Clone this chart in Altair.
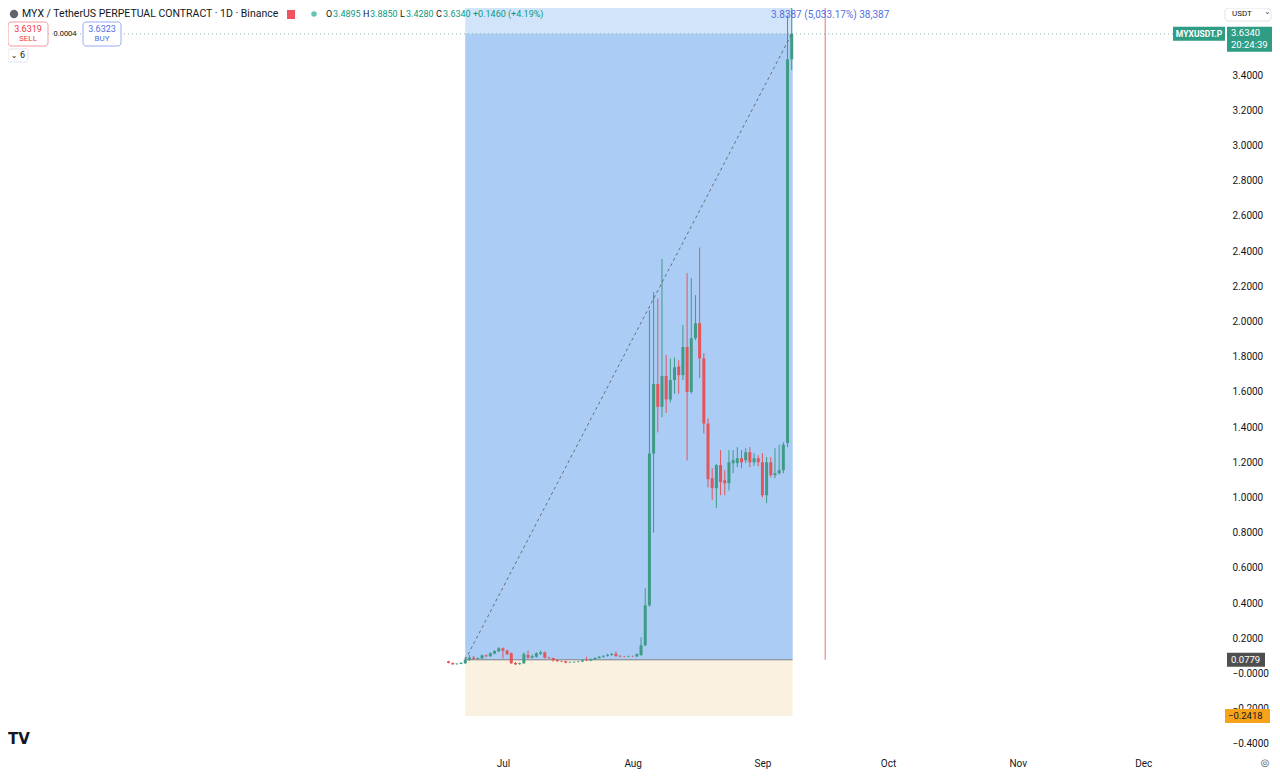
import altair as alt
import pandas as pd

# ---------------- data ----------------
dates = pd.date_range("2025-06-18", "2025-09-08", freq="D").strftime("%Y-%m-%d").tolist()

opens = [0.069, 0.060, 0.053, 0.055, 0.058, 0.078, 0.090, 0.083, 0.086, 0.103, 0.098, 0.113, 0.126,
         0.143, 0.130, 0.115, 0.060, 0.053, 0.058, 0.105, 0.090, 0.095, 0.112, 0.120, 0.090, 0.088,
         0.076, 0.070, 0.070, 0.062, 0.064, 0.066, 0.068, 0.078, 0.074, 0.080, 0.088, 0.095, 0.100,
         0.105, 0.112, 0.100, 0.097, 0.096, 0.098, 0.097, 0.105, 0.160, 0.387, 1.250, 1.645, 1.515,
         1.690, 1.557, 1.667, 1.745, 1.695, 1.855, 1.600, 1.905, 1.990, 1.790, 1.420, 1.110, 1.053,
         1.184, 1.098, 1.081, 1.195, 1.195, 1.223, 1.212, 1.257, 1.200, 1.223, 1.200, 1.013, 1.200,
         1.127, 1.138, 1.155, 1.310, 3.4895]
highs = [0.072, 0.062, 0.058, 0.066, 0.095, 0.105, 0.100, 0.092, 0.108, 0.108, 0.120, 0.132, 0.150,
         0.148, 0.135, 0.120, 0.065, 0.062, 0.120, 0.130, 0.108, 0.120, 0.130, 0.125, 0.095, 0.090,
         0.080, 0.074, 0.072, 0.068, 0.070, 0.072, 0.080, 0.095, 0.085, 0.092, 0.100, 0.105, 0.112,
         0.118, 0.125, 0.105, 0.100, 0.102, 0.102, 0.115, 0.205, 0.485, 2.065, 2.167, 2.130, 2.355,
         1.810, 1.790, 1.795, 1.780, 1.980, 2.275, 2.247, 2.150, 2.420, 1.820, 1.450, 1.167, 1.190,
         1.269, 1.155, 1.269, 1.269, 1.286, 1.269, 1.280, 1.286, 1.252, 1.240, 1.252, 1.229, 1.229,
         1.280, 1.300, 1.314, 3.740, 3.885]
lows = [0.058, 0.050, 0.050, 0.053, 0.055, 0.072, 0.078, 0.080, 0.083, 0.093, 0.095, 0.110, 0.122,
        0.085, 0.105, 0.055, 0.048, 0.050, 0.055, 0.085, 0.085, 0.090, 0.105, 0.085, 0.082, 0.068,
        0.066, 0.064, 0.058, 0.060, 0.061, 0.063, 0.065, 0.070, 0.070, 0.076, 0.085, 0.090, 0.096,
        0.100, 0.094, 0.092, 0.092, 0.093, 0.093, 0.093, 0.100, 0.155, 0.380, 0.800, 1.370, 1.457,
        1.480, 1.540, 1.590, 1.590, 1.667, 1.210, 1.590, 1.894, 1.678, 1.365, 1.058, 0.985, 0.940,
        1.013, 1.013, 1.040, 1.138, 1.172, 1.167, 1.195, 1.172, 1.180, 1.178, 1.000, 0.968, 1.115,
        1.110, 1.130, 1.138, 1.286, 3.428]
closes = [0.060, 0.052, 0.056, 0.060, 0.078, 0.090, 0.083, 0.087, 0.103, 0.098, 0.115, 0.128, 0.143,
          0.130, 0.110, 0.058, 0.052, 0.058, 0.110, 0.090, 0.098, 0.115, 0.120, 0.090, 0.088, 0.075,
          0.070, 0.068, 0.062, 0.064, 0.066, 0.068, 0.075, 0.074, 0.080, 0.088, 0.095, 0.100, 0.106,
          0.110, 0.100, 0.097, 0.096, 0.098, 0.097, 0.110, 0.160, 0.387, 1.250, 1.645, 1.515, 1.690,
          1.557, 1.667, 1.740, 1.695, 1.855, 1.600, 1.905, 1.990, 1.790, 1.420, 1.104, 1.053, 1.184,
          1.087, 1.081, 1.200, 1.212, 1.223, 1.200, 1.257, 1.200, 1.223, 1.200, 1.013, 1.200, 1.127,
          1.138, 1.155, 1.300, 3.4895, 3.634]

month_starts = ["2025-07-01", "2025-08-01", "2025-09-01", "2025-10-01", "2025-11-01", "2025-12-01"]
month_labels = ["Jul", "Aug", "Sep", "Oct", "Nov", "Dec"]
y_ticks = [-0.4, -0.2, 0.0, 0.2, 0.4, 0.6, 0.8, 1.0, 1.2, 1.4, 1.6, 1.8, 2.0, 2.2, 2.4,
           2.6, 2.8, 3.0, 3.2, 3.4]

# position tool
entry_price = 0.0779
stop_price = -0.2418
target_diff = 3.8387
last_price = 3.634
tool_start = "2025-06-22"
tool_end = "2025-09-08"
vline_date = "2025-09-16"

# ---------------- helpers ----------------
origin = pd.Timestamp("2025-07-01")
def day(s):
    return (pd.Timestamp(s) - origin).days

UP, DOWN = "#3f9b86", "#e4555a"
df = pd.DataFrame({"date": dates, "open": opens, "high": highs, "low": lows, "close": closes})
df["d"] = [day(s) for s in dates]
df["color"] = [UP if c >= o else DOWN for o, c in zip(opens, closes)]

month_days = [day(s) for s in month_starts]
FONT = "Roboto"
TXT = "#131722"

x_scale = alt.Scale(domain=[-117.06, 171.33], nice=False, zero=False)
y_scale = alt.Scale(domain=[-0.446, 3.781], nice=False, zero=False)

x_label_expr = "[" + ",".join(f"'{m}'" for m in month_labels) + "][indexof([" + \
    ",".join(str(v) for v in month_days) + "], datum.value)]"
x_axis = alt.Axis(values=month_days, labelExpr=x_label_expr, domain=False, ticks=False, grid=False,
                  labelFont=FONT, labelFontSize=10, labelColor=TXT, labelPadding=6,
                  labelOverlap=False, labelFlush=False)
y_axis = alt.Axis(orient="right", values=y_ticks,
                  labelExpr="datum.value <= 0.00001 ? '\u2212' + format(abs(datum.value), '.4f') : format(datum.value, '.4f')",
                  domain=False, ticks=False, grid=False, labelFont=FONT, labelFontSize=10,
                  labelColor=TXT, labelPadding=7, labelOverlap=False, labelFlush=False)

def X(f):
    return alt.X(f, scale=x_scale, axis=x_axis, title=None)

def Y(f):
    return alt.Y(f, scale=y_scale, axis=y_axis, title=None)

one = pd.DataFrame({"k": [0]})

def label(text, x, y, size=10, color=TXT, align="left", weight="normal", font=FONT):
    return alt.Chart(one).mark_text(text=text, align=align, baseline="middle", fontSize=size,
                                    color=color, fontWeight=weight, font=font).encode(
        x=alt.value(x), y=alt.value(y))

def box(x1, x2, y1, y2, fill, stroke=None, radius=0):
    kw = dict(fill=fill, cornerRadius=radius)
    if stroke:
        kw.update(stroke=stroke, strokeWidth=1)
    return alt.Chart(one).mark_rect(**kw).encode(
        x=alt.value(x1), x2=alt.value(x2), y=alt.value(y1), y2=alt.value(y2))

PX = 176.0  # pixels per price unit, only used to size tag boxes

def price_tag(price, x1, x2, up_px, down_px, fill):
    d = pd.DataFrame({"lo": [price - down_px / PX], "hi": [price + up_px / PX]})
    return alt.Chart(d).mark_rect(fill=fill).encode(
        x=alt.value(x1), x2=alt.value(x2), y=Y("lo:Q"), y2="hi:Q")

def price_text(price, text, x, size=9.5, color="white", align="left", weight="normal"):
    d = pd.DataFrame({"p": [price]})
    return alt.Chart(d).mark_text(text=text, align=align, baseline="middle", fontSize=size,
                                  color=color, font=FONT, fontWeight=weight).encode(
        x=alt.value(x), y=Y("p:Q"))

# ---------------- position tool ----------------
t0, t1 = day(tool_start), day(tool_end) + 0.2
tool = pd.DataFrame({"x1": [t0], "x2": [t1], "entry": [entry_price], "stop": [stop_price],
                     "target": [entry_price + target_diff], "last": [last_price]})
tb = alt.Chart(tool)
profit = tb.mark_rect(fill="#d2e4f9", clip=True).encode(x=X("x1:Q"), x2="x2:Q", y=Y("entry:Q"), y2="target:Q")
filled = tb.mark_rect(fill="#abcdf5", clip=True).encode(x=X("x1:Q"), x2="x2:Q", y=Y("entry:Q"), y2="last:Q")
stopz = tb.mark_rect(fill="#fbf1e0", clip=True).encode(x=X("x1:Q"), x2="x2:Q", y=Y("stop:Q"), y2="entry:Q")
entry_line = tb.mark_rule(color="#787b86", strokeWidth=1).encode(x=X("x1:Q"), x2="x2:Q", y=Y("entry:Q"))
diag = alt.Chart(pd.DataFrame({"xa": [t0], "xb": [day(tool_end)], "ya": [entry_price], "yb": [last_price]})
                 ).mark_rule(color="#6a6d78", strokeWidth=1, strokeDash=[3, 3]).encode(
    x=X("xa:Q"), x2="xb:Q", y=Y("ya:Q"), y2="yb:Q")
vline = alt.Chart(pd.DataFrame({"xv": [day(vline_date)], "y0": [entry_price], "y1": [4.0]})
                  ).mark_rule(color="#f26d76", strokeWidth=1, clip=True).encode(
    x=X("xv:Q"), y=Y("y0:Q"), y2="y1:Q")
last_line = alt.Chart(pd.DataFrame({"lp": [last_price]})).mark_rule(
    color="#8fb3ad", strokeWidth=1, strokeDash=[1, 3]).encode(y=Y("lp:Q"))

# ---------------- candles ----------------
base = alt.Chart(df)
wicks = base.mark_rule(strokeWidth=1, clip=True).encode(
    x=X("d:Q"), y=Y("low:Q"), y2="high:Q", color=alt.Color("color:N", scale=None))
bodies = base.mark_bar(size=3, clip=True).encode(
    x=X("d:Q"), y=Y("open:Q"), y2="close:Q", color=alt.Color("color:N", scale=None))

# ---------------- price tags on the right ----------------
TEAL = "#2f9c84"
tags = [
    price_tag(last_price, 1165, 1217, 7, 7, TEAL),
    price_text(last_price, "MYXUSDT.P", 1191, size=8.5, align="center", weight="bold"),
    price_tag(last_price, 1219, 1264, 7, 18, TEAL),
    price_text(last_price + 1 / PX, "3.6340", 1223),
    price_text(last_price - 11 / PX, "20:24:39", 1223),
    price_tag(entry_price, 1219, 1257, 7, 7, "#4f4f4f"),
    price_text(entry_price, "0.0779", 1223),
    price_tag(stop_price, 1217, 1262, 7, 7, "#f5a31a"),
    price_text(stop_price, "\u22120.2418", 1220, color=TXT),
]

# ---------------- header / chrome ----------------
BLUE = "#5470e0"
RED = "#f23645"
GREEN = "#089981"
chrome = [
    alt.Chart(one).mark_point(filled=True, size=70, color="#1e222d").encode(x=alt.value(6), y=alt.value(6)),
    label("MYX / TetherUS PERPETUAL CONTRACT \u00b7 1D \u00b7 Binance", 14, 6, size=10.5),
    box(279, 287, 2, 11, "#f0555f"),
    alt.Chart(one).mark_point(filled=True, size=30, color="#22ab94").encode(x=alt.value(306), y=alt.value(6)),
    label("O", 318, 6, size=9), label("3.4895", 325, 6, size=9, color=GREEN),
    label("H", 355, 6, size=9), label("3.8850", 362, 6, size=9, color=GREEN),
    label("L", 392, 6, size=9), label("3.4280", 398, 6, size=9, color=GREEN),
    label("C", 428, 6, size=9), label("3.6340", 435, 6, size=9, color=GREEN),
    label("+0.1460 (+4.19%)", 465, 6, size=9, color=GREEN),
    box(0, 40, 14, 38, "white", stroke="#f39aa1", radius=3),
    label("3.6319", 20, 21, size=9, color=RED, align="center"),
    label("SELL", 20, 31, size=8, color=RED, align="center"),
    label("0.0004", 57, 26, size=7.5, align="center"),
    box(75, 113, 14, 38, "white", stroke="#9aaaf2", radius=3),
    label("3.6323", 94, 21, size=9, color=BLUE, align="center"),
    label("BUY", 94, 31, size=8, color=BLUE, align="center"),
    box(0, 20, 41, 54, "white", stroke="#e0e3eb", radius=2),
    label("\u2304 6", 10, 48, size=8, align="center", font="DejaVu Sans"),
    box(1217, 1263, 0, 13, "white", stroke="#e0e3eb", radius=3),
    label("USDT", 1224, 6, size=8),
    label("\u2304", 1256, 4, size=8, font="DejaVu Sans", color="#555"),
    label("3.8387 (5,033.17%) 38,387", 763, 7, size=10, color=BLUE),
    label("TV", 0, 731, size=15, weight="bold", font="DejaVu Sans", color="#131722"),
    label("\u25ce", 1257, 755, size=10, align="center", color="#555", font="DejaVu Sans"),
]

chart = alt.layer(
    profit, filled, stopz, entry_line, last_line, vline, wicks, bodies, diag, *tags, *chrome
).properties(
    width=1217, height=744,
    padding={"left": 0, "top": 0, "right": 47, "bottom": 18},
    autosize=alt.AutoSizeParams(type="none"),
    background="white",
).configure_view(stroke=None)

chart.save("out.html", embed_options={"renderer": "svg", "actions": False})
